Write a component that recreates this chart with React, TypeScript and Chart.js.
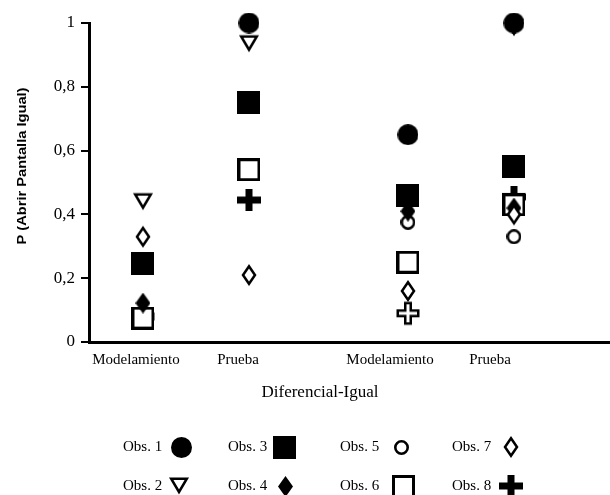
import React, { useEffect, useRef } from 'react';
import { Chart, registerables } from 'chart.js';

Chart.register(...registerables);

const SERIF = '"Liberation Serif", "Times New Roman", serif';

// ---- data ----
const groupX = [1, 2, 3.5, 4.5];
const groupLabels = ['Modelamiento', 'Prueba', 'Modelamiento', 'Prueba'];
const groupLabelX = [0.934, 1.897, 3.331, 4.274];
const yTickValues = [0, 0.2, 0.4, 0.6, 0.8, 1];
const xTitle = 'Diferencial-Igual';
const yTitle = 'P (Abrir Pantalla Igual)';
const obsNames = ['Obs. 1', 'Obs. 2', 'Obs. 3', 'Obs. 4', 'Obs. 5', 'Obs. 6', 'Obs. 7', 'Obs. 8'];

const obs1 = [null, 1.0, 0.65, 1.0];
const obs2 = [0.44, 0.935, null, 0.985];
const obs3 = [0.245, 0.75, 0.46, 0.55];
const obs4 = [0.122, null, 0.41, 0.42];
const obs5 = [0.075, null, 0.375, 0.33];
const obs6 = [0.075, 0.54, 0.25, 0.43];
const obs7 = [0.33, 0.21, 0.16, 0.4];
const obs8 = [0.08, 0.445, 0.09, 0.455];

function makeCanvas(w: number, h: number, draw: (c: CanvasRenderingContext2D) => void) {
  const cv = document.createElement('canvas');
  cv.width = w;
  cv.height = h;
  const c = cv.getContext('2d') as CanvasRenderingContext2D;
  c.fillStyle = '#000';
  c.strokeStyle = '#000';
  c.lineJoin = 'miter';
  draw(c);
  return cv;
}

function poly(c: CanvasRenderingContext2D, pts: number[][]) {
  c.beginPath();
  pts.forEach((p, i) => (i === 0 ? c.moveTo(p[0], p[1]) : c.lineTo(p[0], p[1])));
  c.closePath();
}

function buildMarkers() {
  const circleFilled = makeCanvas(21, 21, (c) => {
    c.beginPath();
    c.arc(10.5, 10.5, 10.5, 0, Math.PI * 2);
    c.fill();
  });
  const circleOpen = makeCanvas(15, 15, (c) => {
    c.lineWidth = 2.6;
    c.beginPath();
    c.arc(7.5, 7.5, 6.2, 0, Math.PI * 2);
    c.fillStyle = '#fff';
    c.fill();
    c.stroke();
  });
  const squareFilled = makeCanvas(23, 23, (c) => {
    c.fillRect(0, 0, 23, 23);
  });
  const squareOpen = makeCanvas(23, 23, (c) => {
    c.fillStyle = '#fff';
    c.fillRect(0, 0, 23, 23);
    c.lineWidth = 3;
    c.strokeRect(1.5, 1.5, 20, 20);
  });
  const triangleOpen = makeCanvas(24, 22, (c) => {
    c.lineWidth = 2.6;
    poly(c, [[4.25, 3.8], [19.75, 3.8], [12, 16.9]]);
    c.fillStyle = '#fff';
    c.fill();
    c.stroke();
  });
  const diamondFilled = makeCanvas(15, 21, (c) => {
    poly(c, [[7.5, 0], [15, 10.5], [7.5, 21], [0, 10.5]]);
    c.fill();
  });
  const diamondOpen = makeCanvas(18, 26, (c) => {
    c.lineWidth = 2.5;
    poly(c, [[9, 4.2], [15, 13], [9, 21.8], [3, 13]]);
    c.fillStyle = '#fff';
    c.fill();
    c.stroke();
  });
  const plusFilled = makeCanvas(24, 22, (c) => {
    c.fillRect(0, 7.5, 24, 7);
    c.fillRect(8.5, 0, 7, 22);
  });
  const plusOutline = makeCanvas(26, 26, (c) => {
    const a = 2.75;
    const L = 10.25;
    const o = 13;
    const pts = [
      [-a, -L], [a, -L], [a, -a], [L, -a], [L, a], [a, a],
      [a, L], [-a, L], [-a, a], [-L, a], [-L, -a], [-a, -a],
    ].map((p) => [p[0] + o, p[1] + o]);
    c.lineWidth = 2.5;
    poly(c, pts);
    c.fillStyle = '#fff';
    c.fill();
    c.stroke();
  });
  return { circleFilled, circleOpen, squareFilled, squareOpen, triangleOpen, diamondFilled, diamondOpen, plusFilled, plusOutline };
}

export default function App() {
  const ref = useRef<HTMLCanvasElement>(null);

  useEffect(() => {
    if (!ref.current) return;
    const m = buildMarkers();
    const series = [obs1, obs2, obs3, obs4, obs5, obs6, obs7, obs8];
    const styles: any[] = [
      m.circleFilled,
      m.triangleOpen,
      m.squareFilled,
      m.diamondFilled,
      m.circleOpen,
      m.squareOpen,
      m.diamondOpen,
      [m.plusOutline, m.plusFilled, m.plusOutline, m.plusFilled],
    ];
    const legendStyles = [
      m.circleFilled, m.triangleOpen, m.squareFilled, m.diamondFilled,
      m.circleOpen, m.squareOpen, m.diamondOpen, m.plusFilled,
    ];
    const orders = [1, 8, 2, 4, 7, 5, 3, 6];

    const datasets = series.map((vals, i) => ({
      label: obsNames[i],
      data: vals.map((v, j) => ({ x: groupX[j], y: v })),
      pointStyle: styles[i],
      pointRadius: 11,
      pointHoverRadius: 11,
      order: orders[i],
      clip: false as any,
      showLine: false,
    }));

    // legend layout: columns (text left), marker centers, rows
    const legTextX = [123, 228, 340, 452];
    const legMarkX = [[181, 179], [284, 285], [401, 403], [511, 511]];
    const legRowY = [447, 486];

    const overlay = {
      id: 'overlay',
      afterDraw(chart: any) {
        const ctx: CanvasRenderingContext2D = chart.ctx;
        ctx.save();
        ctx.fillStyle = '#000';
        // y title
        ctx.save();
        ctx.translate(23, 166);
        ctx.rotate(-Math.PI / 2);
        ctx.font = 'bold 12px "Liberation Sans", Arial, sans-serif';
        const w = ctx.measureText(yTitle).width;
        ctx.scale(157 / w, 1);
        ctx.textAlign = 'center';
        ctx.textBaseline = 'middle';
        ctx.fillText(yTitle, 0, 0);
        ctx.restore();
        // x title
        ctx.font = `17px ${SERIF}`;
        ctx.textAlign = 'center';
        ctx.textBaseline = 'alphabetic';
        ctx.fillText(xTitle, 320, 397);
        // legend
        ctx.font = `15px ${SERIF}`;
        ctx.textAlign = 'left';
        ctx.textBaseline = 'middle';
        obsNames.forEach((name, i) => {
          const col = Math.floor(i / 2);
          const row = i % 2;
          const y = legRowY[row];
          ctx.fillText(name, legTextX[col], y);
          const img = legendStyles[i];
          ctx.drawImage(img, Math.round(legMarkX[col][row] - img.width / 2), Math.round(y - img.height / 2));
        });
        ctx.restore();
      },
    };

    const chart = new Chart(ref.current, {
      type: 'scatter',
      data: { datasets: datasets as any },
      options: {
        animation: false,
        responsive: false,
        layout: { autoPadding: false, padding: { top: 23, left: 0, right: 0, bottom: 0 } },
        plugins: { legend: { display: false }, tooltip: { enabled: false } },
        scales: {
          x: {
            type: 'linear',
            min: 0.491,
            max: 5.406,
            afterBuildTicks: (s: any) => {
              s.ticks = groupLabelX.map((v) => ({ value: v }));
            },
            afterFit: (s: any) => {
              s.height = 153;
              s.paddingLeft = 0;
              s.paddingRight = 0;
            },
            ticks: {
              callback: (_v: any, i: number) => groupLabels[i],
              font: { size: 15, family: SERIF },
              color: '#000',
              padding: 9,
              autoSkip: false,
              maxRotation: 0,
            },
            grid: { display: false, drawTicks: false },
            border: { display: true, color: '#000', width: 3 },
          },
          y: {
            type: 'linear',
            min: 0,
            max: 1,
            afterBuildTicks: (s: any) => {
              s.ticks = yTickValues.map((v) => ({ value: v }));
            },
            afterFit: (s: any) => {
              s.width = 89;
            },
            ticks: {
              callback: (v: any) => String(Math.round(Number(v) * 10) / 10).replace('.', ','),
              font: { size: 17, family: SERIF },
              color: '#000',
              padding: 6,
            },
            grid: { drawOnChartArea: false, drawTicks: true, tickLength: 8, color: '#000', lineWidth: 2 },
            border: { display: true, color: '#000', width: 3 },
          },
        },
      },
      plugins: [overlay],
    });
    return () => chart.destroy();
  }, []);

  return (
    <div style={{ position: 'fixed', left: 0, top: 0, width: 610, height: 495, background: '#fff' }}>
      <canvas ref={ref} width={610} height={495} style={{ display: 'block' }} />
    </div>
  );
}
